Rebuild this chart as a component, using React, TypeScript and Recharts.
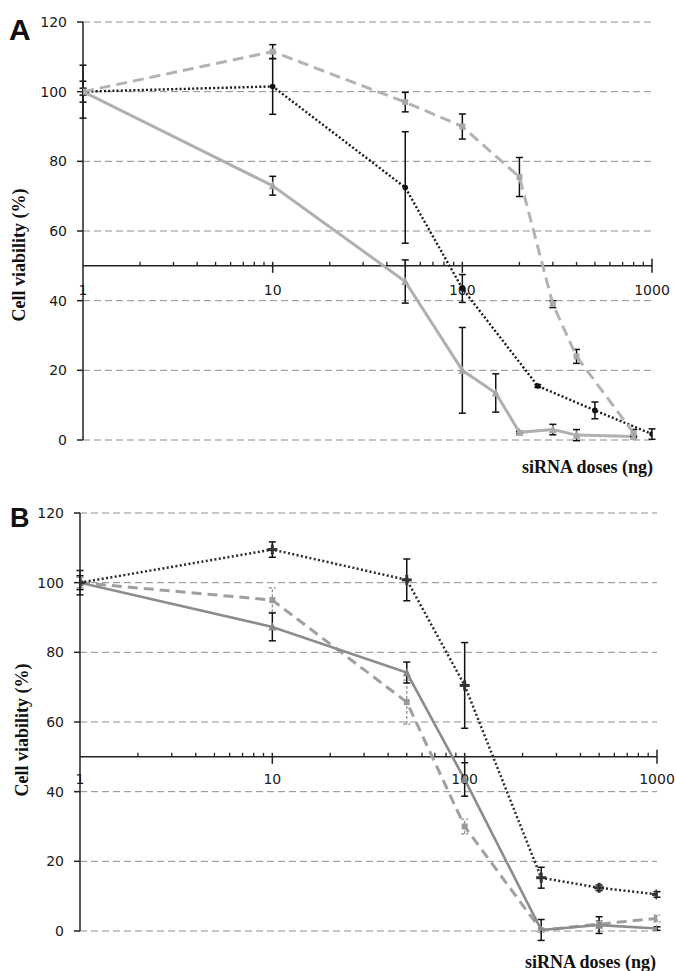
import React from 'react';
import {
  LineChart,
  Line,
  XAxis,
  YAxis,
  CartesianGrid,
  ErrorBar,
  ReferenceLine,
  ReferenceDot,
} from 'recharts';

// ---------- tick labels ----------
const yTicks = [0, 20, 40, 60, 80, 100, 120];
const xMajorTicks = [1, 10, 100, 1000];
const xMajorLabels = ['1', '10', '100', '1000'];
const xMinorTicks = [2, 3, 4, 5, 6, 7, 8, 9, 20, 30, 40, 50, 60, 70, 80, 90, 200, 300, 400, 500, 600, 700, 800, 900];

// ---------- Panel A ----------
const aDashedDose = [1, 10, 50, 100, 200, 300, 400, 800];
const aDashedVal = [100, 111.5, 97, 90, 75.5, 39, 24, 2];
const aDashedErr = [1, 2, 2.8, 3.6, 5.6, 1, 2, 1];

const aDottedDose = [1, 10, 50, 100, 250, 500, 1000];
const aDottedVal = [100, 101.5, 72.5, 43.5, 15.5, 8.5, 1.7];
const aDottedErr = [7.6, 8, 16, 4, 0.4, 2.4, 1.5];

const aSolidDose = [1, 10, 50, 100, 150, 200, 300, 400, 800];
const aSolidVal = [100, 73, 45.5, 20, 13.5, 2.2, 3, 1.4, 1];
const aSolidErr = [3, 2.7, 6.2, 12.3, 5.5, 0.3, 1.5, 1.6, 0.3];

// ---------- Panel B ----------
const bDottedDose = [1, 10, 50, 100, 250, 500, 1000];
const bDottedVal = [100, 109.5, 100.8, 70.5, 15.3, 12.4, 10.5];
const bDottedErr = [3.5, 2.2, 6, 12.3, 3, 0.8, 0.8];

const bSolidDose = [1, 10, 50, 100, 250, 500, 1000];
const bSolidVal = [100, 87.3, 74.2, 43.5, 0.3, 1.7, 0.7];
const bSolidErr = [2, 4, 3, 4.8, 3, 2.4, 0.5];

const bDashedDose = [1, 10, 50, 100, 250, 500, 1000];
const bDashedVal = [100, 95, 65.7, 30, 0.2, 2, 3.6];
const bDashedErr = [1.5, 3.5, 6.3, 2.1, 0.5, 1, 1];

const zip = (dose: number[], val: number[], err: number[]) =>
  dose.map((x, i) => ({ x, y: val[i], err: err[i] }));

// ---------- markers ----------
const square = (color: string, s: number) => (p: any) => {
  if (p.cx == null || p.cy == null) return <g key={p.key} />;
  return <rect key={p.key} x={p.cx - s / 2} y={p.cy - s / 2} width={s} height={s} fill={color} />;
};
const circle = (color: string, r: number) => (p: any) => {
  if (p.cx == null || p.cy == null) return <g key={p.key} />;
  return <circle key={p.key} cx={p.cx} cy={p.cy} r={r} fill={color} />;
};
const triangle = (color: string, s: number) => (p: any) => {
  if (p.cx == null || p.cy == null) return <g key={p.key} />;
  const h = s * 0.9;
  return (
    <polygon
      key={p.key}
      points={`${p.cx},${p.cy - h / 2 - 1} ${p.cx - s / 2},${p.cy + h / 2} ${p.cx + s / 2},${p.cy + h / 2}`}
      fill={color}
    />
  );
};
const plus = (color: string, s: number) => (p: any) => {
  if (p.cx == null || p.cy == null) return <g key={p.key} />;
  const t = 3;
  return (
    <g key={p.key} fill={color}>
      <rect x={p.cx - s / 2} y={p.cy - t / 2} width={s} height={t} />
      <rect x={p.cx - t / 2} y={p.cy - s / 2} width={t} height={s} />
    </g>
  );
};

type Series = {
  name: string;
  data: { x: number; y: number; err: number }[];
  stroke: string;
  width: number;
  dash?: string;
  dot: any;
  errStroke: string;
  errDash?: string;
  errWidth: number;
};

const FONT_TICK = 'DejaVu Sans, Verdana, sans-serif';

function Panel(props: {
  width: number;
  height: number;
  margin: { top: number; right: number; bottom: number; left: number };
  yAxisWidth: number;
  series: Series[];
  labelDy: number;
}) {
  const { width, height, margin, yAxisWidth, series, labelDy } = props;
  return (
    <LineChart width={width} height={height} margin={margin}>
      <CartesianGrid horizontal vertical={false} stroke="#8f8f8f" strokeDasharray="7 4" strokeWidth={1} />
      <XAxis
        type="number"
        dataKey="x"
        scale="log"
        domain={[1, 1000]}
        allowDataOverflow
        hide
      />
      <YAxis
        type="number"
        domain={[0, 120]}
        ticks={yTicks}
        allowDataOverflow
        width={yAxisWidth}
        axisLine={{ stroke: '#222', strokeWidth: 1.5 }}
        tickLine={{ stroke: '#222', strokeWidth: 1.5 }}
        tickSize={6}
        tickMargin={10}
        tick={{ fill: '#1a1a1a', fontSize: 14, fontFamily: FONT_TICK }}
      />
      <ReferenceLine y={50} stroke="#222" strokeWidth={1.5} ifOverflow="visible" />
      {xMinorTicks.map((t) => (
        <ReferenceDot
          key={'m' + t}
          x={t}
          y={50}
          r={0}
          ifOverflow="visible"
          shape={(p: any) => (
            <line x1={p.cx} x2={p.cx} y1={p.cy} y2={p.cy - 4} stroke="#222" strokeWidth={1.3} />
          )}
        />
      ))}
      {xMajorTicks.map((t, i) => (
        <ReferenceDot
          key={'M' + t}
          x={t}
          y={50}
          r={0}
          ifOverflow="visible"
          shape={(p: any) => (
            <g>
              {i > 0 && (
                <line x1={p.cx} x2={p.cx} y1={p.cy - (i === 3 ? 7 : 4)} y2={p.cy + 7} stroke="#222" strokeWidth={1.5} />
              )}
              <text
                x={p.cx}
                y={p.cy + labelDy}
                textAnchor="middle"
                fontSize={14}
                fontFamily={FONT_TICK}
                fill="#1a1a1a"
              >
                {xMajorLabels[i]}
              </text>
            </g>
          )}
        />
      ))}
      {series.map((s) => (
        <Line
          key={s.name}
          name={s.name}
          data={s.data}
          dataKey="y"
          type="linear"
          stroke={s.stroke}
          strokeWidth={s.width}
          strokeDasharray={s.dash}
          dot={s.dot}
          activeDot={false}
          isAnimationActive={false}
        >
          <ErrorBar
            dataKey="err"
            direction="y"
            width={3.5}
            stroke={s.errStroke}
            strokeWidth={s.errWidth}
            strokeDasharray={s.errDash}
            isAnimationActive={false}
          />
        </Line>
      ))}
    </LineChart>
  );
}

const seriesA: Series[] = [
  {
    name: 'A solid',
    data: zip(aSolidDose, aSolidVal, aSolidErr),
    stroke: '#b0b0b0',
    width: 3,
    dot: triangle('#a8a8a8', 8),
    errStroke: '#111',
    errWidth: 1.5,
  },
  {
    name: 'A dotted',
    data: zip(aDottedDose, aDottedVal, aDottedErr),
    stroke: '#1a1a1a',
    width: 2.4,
    dash: '2 2.2',
    dot: circle('#111', 2.8),
    errStroke: '#111',
    errWidth: 1.5,
  },
  {
    name: 'A dashed',
    data: zip(aDashedDose, aDashedVal, aDashedErr),
    stroke: '#b3b3b3',
    width: 3,
    dash: '11 6',
    dot: square('#a8a8a8', 6),
    errStroke: '#111',
    errWidth: 1.5,
  },
];

const seriesB: Series[] = [
  {
    name: 'B dashed',
    data: zip(bDashedDose, bDashedVal, bDashedErr),
    stroke: '#a0a0a0',
    width: 3,
    dash: '10 6',
    dot: square('#999', 6),
    errStroke: '#888',
    errDash: '3 2',
    errWidth: 1.2,
  },
  {
    name: 'B solid',
    data: zip(bSolidDose, bSolidVal, bSolidErr),
    stroke: '#8c8c8c',
    width: 2.6,
    dot: triangle('#888', 8),
    errStroke: '#111',
    errWidth: 1.5,
  },
  {
    name: 'B dotted',
    data: zip(bDottedDose, bDottedVal, bDottedErr),
    stroke: '#2a2a2a',
    width: 2.5,
    dash: '2 2.4',
    dot: plus('#333', 10),
    errStroke: '#111',
    errWidth: 1.5,
  },
];

const TITLE_FONT = '"Liberation Serif", "Times New Roman", serif';

export default function App() {
  return (
    <div style={{ position: 'absolute', left: 0, top: 0, width: 676, height: 971, background: '#fff' }}>
      <div style={{ position: 'absolute', left: 0, top: 0 }}>
        <Panel
          width={676}
          height={480}
          margin={{ top: 22, right: 24, bottom: 40, left: 0 }}
          yAxisWidth={83}
          series={seriesA}
          labelDy={29}
        />
      </div>
      <div style={{ position: 'absolute', left: 0, top: 490 }}>
        <Panel
          width={676}
          height={481}
          margin={{ top: 23, right: 19, bottom: 40, left: 0 }}
          yAxisWidth={80}
          series={seriesB}
          labelDy={27}
        />
      </div>
      <svg
        width={676}
        height={971}
        style={{ position: 'absolute', left: 0, top: 0, pointerEvents: 'none' }}
      >
        <text x={9} y={40} fontSize={30} fontWeight="bold" fontFamily='"Liberation Sans", Arial, sans-serif' fill="#111">
          A
        </text>
        <text x={10} y={527} fontSize={27} fontWeight="bold" fontFamily='"Liberation Sans", Arial, sans-serif' fill="#111">
          B
        </text>
        <text
          x={19}
          y={255}
          transform="rotate(-90 19 255)"
          textAnchor="middle"
          dominantBaseline="central"
          fontSize={18}
          fontWeight="bold"
          fontFamily={TITLE_FONT}
          fill="#111"
        >
          Cell viability (%)
        </text>
        <text
          x={22}
          y={730}
          transform="rotate(-90 22 730)"
          textAnchor="middle"
          dominantBaseline="central"
          fontSize={18}
          fontWeight="bold"
          fontFamily={TITLE_FONT}
          fill="#111"
        >
          Cell viability (%)
        </text>
        <text x={653} y={473} textAnchor="end" fontSize={18} fontWeight="bold" fontFamily={TITLE_FONT} fill="#111">
          siRNA doses (ng)
        </text>
        <text x={656} y={968} textAnchor="end" fontSize={18} fontWeight="bold" fontFamily={TITLE_FONT} fill="#111">
          siRNA doses (ng)
        </text>
      </svg>
    </div>
  );
}
